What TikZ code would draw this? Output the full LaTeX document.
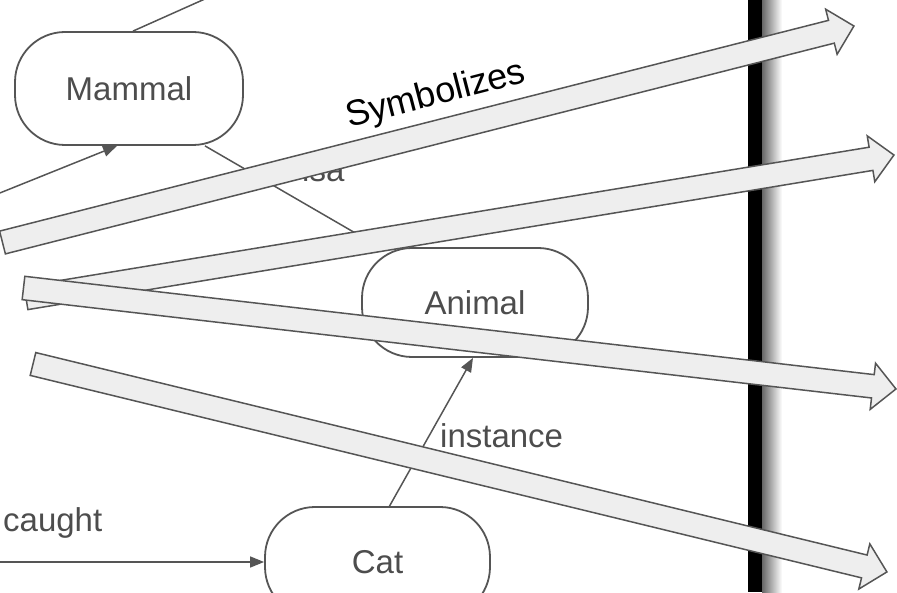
\documentclass[tikz,border=0pt]{standalone}
\usepackage{fontspec}
\setmainfont{Liberation Sans}
\usepackage{tikz}
\usetikzlibrary{calc,shapes.arrows,arrows.meta}

\definecolor{linegray}{HTML}{555555}
\definecolor{textgray}{HTML}{4D4D4D}
\definecolor{bandgray}{HTML}{EEEEEE}

\tikzset{
  concept/.style={draw=linegray, line width=1.8pt, rounded corners=50pt, fill=white,
    text=textgray, font=\fontsize{33}{36}\selectfont},
  link/.style={draw=linegray, line width=1.5pt},
  tip/.style={-{Triangle[length=14pt,width=11pt]}},
  linklabel/.style={text=textgray, font=\fontsize{33}{36}\selectfont, inner sep=0pt},
  bigarrow/.style={single arrow, draw=linegray, fill=bandgray, line width=1.5pt,
    inner xsep=0pt, inner ysep=11pt, outer sep=0pt, minimum width=45pt,
    single arrow head extend=11.5pt}
}

\begin{document}
\begin{tikzpicture}[x=1pt,y=1pt]
	\useasboundingbox (0,0) rectangle (897,592);

	% the bar and its shadow
	\fill[black] (748,0) rectangle (762,592);
	\shade[left color=black!60, right color=white] (762,0) rectangle (782,592);

	% concepts
	\node[concept, minimum width=228pt, minimum height=113pt] (mammal) at (129,503.5) {Mammal};
	\node[concept, minimum width=226pt, minimum height=109pt] (animal) at (475,289.5) {Animal};
	\node[concept, minimum width=225pt, minimum height=110pt] (cat) at (377.5,30) {Cat};

	\coordinate (up) at (225,602);
	\coordinate (inmam) at (-30,387);
	\coordinate (incat) at (-20,30);

	\draw[link] ([xshift=4pt]mammal.north) -- (up);
	\draw[link,tip] (inmam) -- ([xshift=-12pt]mammal.south);
	\draw[link] ([xshift=76pt]mammal.south) -- (animal);
	\draw[link,tip] ([xshift=12pt]cat.north) -- ([xshift=-2pt]animal.south);
	\draw[link,tip] (incat) -- (cat.west);

	\node[linklabel, anchor=base west] (isalbl) at (302,410) {isa};
	\node[linklabel, anchor=base west] (instlbl) at (440,144) {instance};
	\node[linklabel, anchor=base west] (caughtlbl) at (3,60) {caught};

	% the four big arrows
	\coordinate (t1) at (2.5,349.5);  \coordinate (h1) at (854,566);
	\coordinate (t2) at (26,294);     \coordinate (h2) at (894,437);
	\coordinate (t3) at (23.5,304);   \coordinate (h3) at (896,203);
	\coordinate (t4) at (33,228);     \coordinate (h4) at (887,20);
	\foreach \a in {1,...,4}
		\path let \p1=($(h\a)-(t\a)$), \n1={atan2(\y1,\x1)}, \n2={veclen(\x1,\y1)} in
			node[bigarrow, rotate=\n1, minimum height=\n2, anchor=tail] (sym\a) at (t\a) {};

	\node[anchor=base west, rotate=14.5, font=\fontsize{36}{40}\selectfont, inner sep=0pt] (symlbl) at (349,464) {Symbolizes};
\end{tikzpicture}
\end{document}
